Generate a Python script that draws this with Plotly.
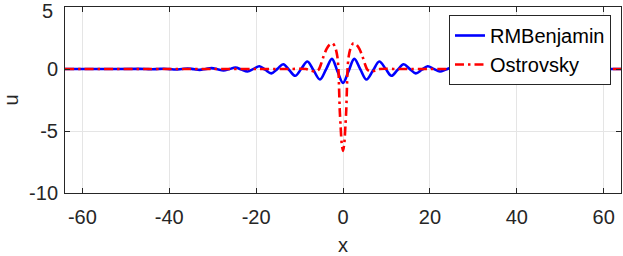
import plotly.graph_objects as go

# RMBenjamin (blue, solid)
x_rmb = [-64, -52, -46.75, -45.4, -44, -42.6, -41.25, -39.9, -38.5, -37.1, -35.75, -34.4,
         -33, -31.6, -30.25, -28.9, -27.5, -26.1, -24.75, -23.4, -22, -20.6, -19.25, -17.9,
         -16.5, -15.1, -13.75, -12.4, -11, -9.6, -8.2, -6.75, -5.3, -3.9, -2.55, -1.3, 0,
         1.3, 2.6, 4.0, 5.4, 6.9, 8.35, 9.8, 11.15, 12.55, 13.95, 15.35, 16.75, 18.15,
         19.5, 20.9, 22.3, 23.7, 25.1, 26.5, 27.9, 29.3, 30.7, 32.1, 33.5, 34.9, 36.3,
         37.7, 39.1, 40.5, 41.9, 43.3, 44.7, 46.1, 47.5, 53, 64]
u_rmb = [0, 0, 0.01, 0, -0.02, 0, 0.02, -0.01, -0.04, 0, 0.04, -0.01,
         -0.07, 0, 0.07, -0.02, -0.12, 0, 0.12, -0.04, -0.2, 0.01, 0.22, -0.06,
         -0.35, 0.01, 0.38, -0.08, -0.55, 0.02, 0.6, -0.13, -0.85, -0.03, 0.82, -0.15, -1.12,
         -0.15, 0.82, -0.03, -0.85, -0.13, 0.6, 0.02, -0.55, -0.08, 0.38, 0.01, -0.35, -0.06,
         0.22, 0.01, -0.2, -0.04, 0.12, 0, -0.12, -0.02, 0.07, 0, -0.07, -0.01, 0.04,
         0, -0.04, -0.01, 0.02, 0, -0.02, 0, 0.01, 0, 0]

# Ostrovsky (red, dash-dot)
x_ost = [-64, -20, -12, -10, -8.5, -7.5, -6.4, -5.6, -5.0, -4.5, -3.8, -3.1, -2.4, -1.8,
         -1.3, -1.05, -0.9, -0.75, -0.55, -0.3, 0, 0.3, 0.55, 0.75, 0.9, 1.05, 1.3, 1.8,
         2.4, 3.1, 3.8, 4.5, 5.0, 5.6, 6.4, 7.5, 8.5, 10, 12, 20, 64]
u_ost = [0, 0, 0, 0.02, 0.0, -0.12, -0.2, -0.05, 0.45, 1.0, 1.6, 1.95, 2.07, 1.75,
         1.0, 0.0, -1.6, -3.3, -4.6, -6.0, -6.6, -6.0, -4.6, -3.3, -1.6, 0.0, 1.0, 1.75,
         2.07, 1.95, 1.6, 1.0, 0.45, -0.05, -0.2, -0.12, 0.0, 0.02, 0, 0, 0]

x_ticks = [-60, -40, -20, 0, 20, 40, 60]
x_ticktext = ["-60", "-40", "-20", "0", "20", "40", "60"]
y_ticks = [-10, -5, 0, 5]
y_ticktext = ["-10", "-5", "0", ""]   # the top label "5" is placed as an annotation below
top_label = "5"

FONT = "Liberation Sans, Arial, sans-serif"
AX = "#262626"

fig = go.Figure()
fig.add_trace(go.Scatter(x=x_rmb, y=u_rmb, mode="lines", name="RMBenjamin",
                         line=dict(color="#0000ff", width=2.6, shape="spline", smoothing=1.0)))
fig.add_trace(go.Scatter(x=x_ost, y=u_ost, mode="lines", name="Ostrovsky",
                         line=dict(color="#ff0000", width=2.6, shape="spline", smoothing=0.8,
                                   dash="9px,4px,2.5px,4px")))

axis_common = dict(showgrid=True, gridcolor="#e5e5e5", gridwidth=1, zeroline=False,
                   showline=True, linecolor=AX, linewidth=1, mirror="ticks",
                   ticks="inside", ticklen=5, tickcolor=AX, tickwidth=1,
                   automargin=False, ticklabeloverflow="allow",
                   tickfont=dict(family=FONT, size=20, color=AX))

fig.add_annotation(x=0, xref="paper", y=y_ticks[-1], yref="y", text=top_label,
                   showarrow=False, xanchor="right", yanchor="middle",
                   xshift=-10, yshift=-4, font=dict(family=FONT, size=20, color=AX))

fig.update_layout(
    width=623, height=256,
    margin=dict(l=65, r=2, t=7, b=63),
    paper_bgcolor="white", plot_bgcolor="white",
    showlegend=True,
    legend=dict(x=0.982, y=0.957, xanchor="right", yanchor="top",
                bgcolor="white", bordercolor=AX, borderwidth=1,
                font=dict(family=FONT, size=20, color="#000000"),
                tracegroupgap=0, itemwidth=30),
    xaxis=dict(range=[-64, 64], tickvals=x_ticks, ticktext=x_ticktext, ticklabelstandoff=6,
               title=dict(text="x", font=dict(family=FONT, size=20, color=AX), standoff=10),
               **axis_common),
    yaxis=dict(range=[-10, 5], tickvals=y_ticks, ticktext=y_ticktext, ticklabelstandoff=2,
               title=dict(text="u", font=dict(family=FONT, size=20, color=AX), standoff=17),
               **axis_common),
)

fig.write_html("out.html", config={"displayModeBar": False},
               post_script="document.body.style.margin='0px';")
